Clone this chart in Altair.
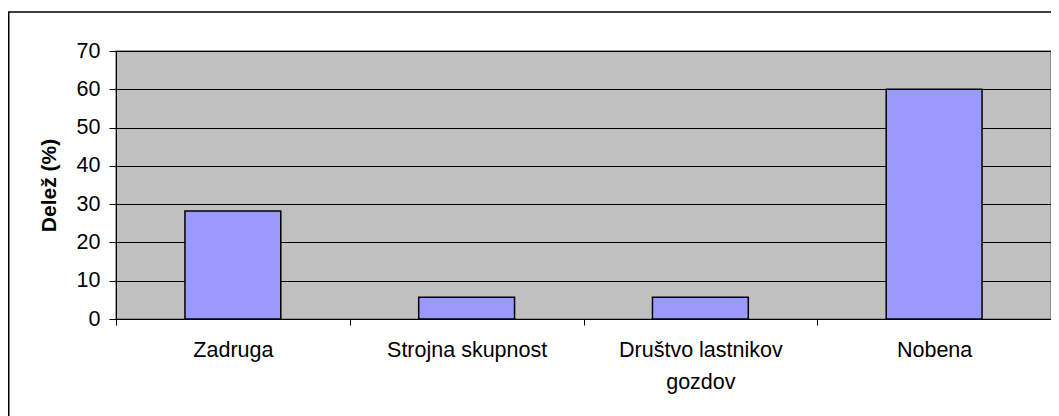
import altair as alt
import pandas as pd

categories = ["Zadruga", "Strojna skupnost", "Društvo lastnikov gozdov", "Nobena"]
shares = [28.2, 5.7, 5.7, 60.0]
y_ticks = [0, 10, 20, 30, 40, 50, 60, 70]

FONT = "Liberation Sans"

df = pd.DataFrame({"kategorija": categories, "delez": shares})
frame_df = pd.DataFrame({"k": [0]})

label_expr = (
    "datum.label == 'Društvo lastnikov gozdov' ? "
    "['Društvo lastnikov', 'gozdov'] : datum.label"
)

bars = alt.Chart(df).mark_bar(
    color="#9999FF", stroke="#000000", strokeWidth=1.5,
    width=alt.RelativeBandSize(0.41)
).encode(
    x=alt.X(
        "kategorija:N", sort=categories, title=None,
        scale=alt.Scale(paddingInner=0, paddingOuter=0),
        axis=alt.Axis(
            labelAngle=0, tickBand="extent", tickSize=6, tickColor="#000000",
            domainColor="#000000", domainWidth=1, labelFont=FONT, labelFontSize=21.5,
            labelColor="#000000", labelPadding=14, labelLineHeight=32,
            labelExpr=label_expr, labelBaseline="top"
        ),
    ),
    y=alt.Y(
        "delez:Q", title="Delež (%)",
        scale=alt.Scale(domain=[0, 70], nice=False),
        axis=alt.Axis(
            values=y_ticks, grid=True, gridColor="#000000", gridWidth=1,
            tickSize=7, tickColor="#000000", domainColor="#000000", domainWidth=1,
            labelFont=FONT, labelFontSize=21.5, labelColor="#000000", labelPadding=9,
            titleFont=FONT, titleFontSize=21, titleFontWeight="bold",
            titleColor="#000000", titlePadding=17
        ),
    ),
)

frame = alt.Chart(frame_df).mark_rect(
    fillOpacity=0, stroke="#000000", strokeWidth=1.5
).encode(
    x=alt.value(-107.25), x2=alt.value(1200),
    y=alt.value(-39), y2=alt.value(600)
)

chart = alt.layer(bars, frame).properties(
    width=935, height=268,
    autosize=alt.AutoSizeParams(type="none"),
    padding={"left": 108, "top": 43, "right": 0, "bottom": 97},
    background="#FFFFFF",
).configure_view(
    fill="#C0C0C0", stroke="#808080", strokeWidth=1.5
)

chart.save("out.html", embed_options={"renderer": "svg", "actions": False})
